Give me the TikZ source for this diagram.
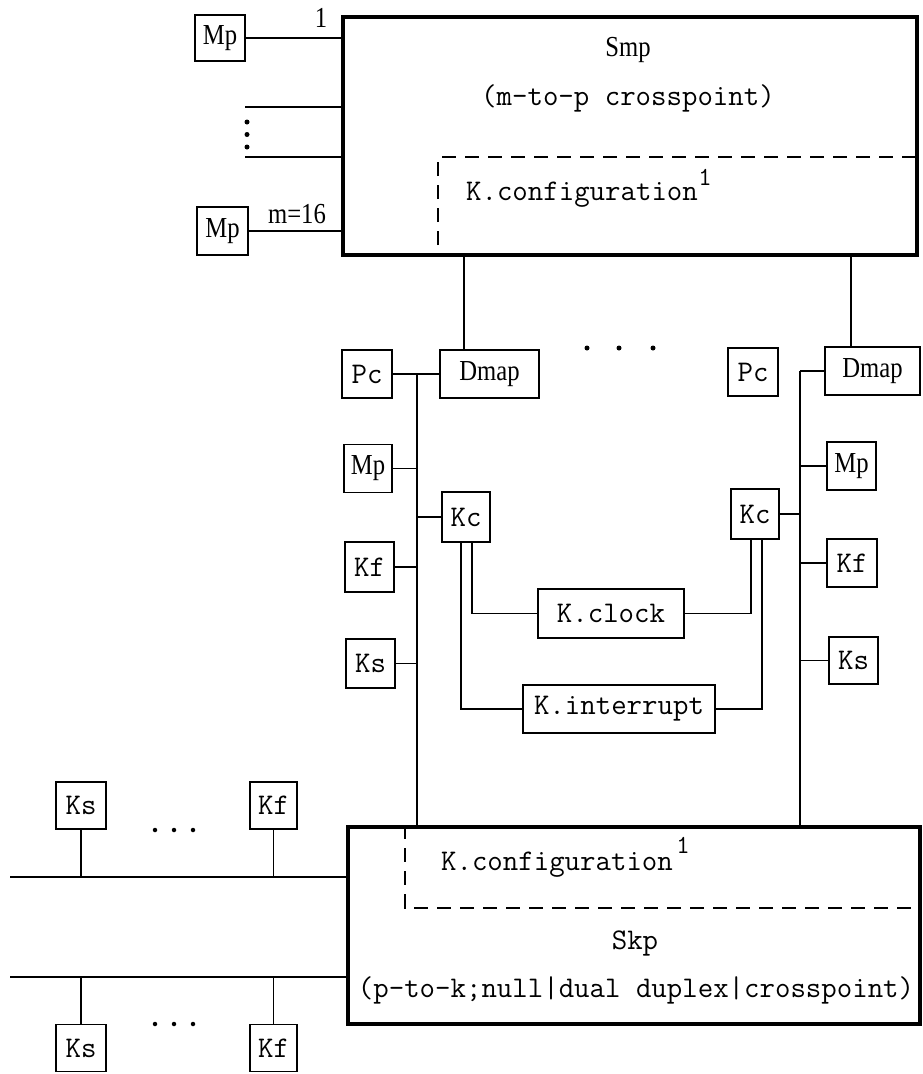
\documentclass[tikz,border=0pt]{standalone}
\usepackage{fontspec}
\newfontfamily\serf[FakeStretch=0.85]{Liberation Serif}
\usetikzlibrary{calc}
\tikzset{
  tt/.style={font=\fontsize{30}{34}\selectfont\ttfamily, inner sep=0pt},
  sf/.style={font=\fontsize{29}{33}\selectfont\serf, inner sep=0pt},
  box/.style={draw, line width=1.4pt, inner sep=0pt, minimum width=49pt, minimum height=48pt},
  big/.style={draw, line width=3.5pt, inner sep=0pt},
  wire/.style={line width=1.1pt},
  idash/.style={line width=1.4pt, dash pattern=on 14pt off 9pt},
  blob/.style={fill, circle, inner sep=0pt, minimum size=5pt}
}
\begin{document}
\begin{tikzpicture}[x=1pt,y=-1pt]
\fill[white] (0,0) rectangle (923,1074);
\useasboundingbox (0,0) rectangle (923,1074);

% ---------- Smp ----------
\node[big, minimum width=574pt, minimum height=238pt] (smp) at (630,136) {};
\node[sf] (smpt) at (628,50) {Smp};
\node[tt] (smpc) at (628,98) {(m-to-p crosspoint)};
\node[tt] (kcf1) at (582,195) {K.configuration};
\node[tt, font=\fontsize{26}{30}\selectfont\ttfamily] (kcf1s) at (705,177) {1};
\coordinate (dq1) at (438,245);
\coordinate (dq2) at (438,157);
\draw[idash] (dq1) -- (dq2) -- (dq2 -| smp.east);

\node[box, sf, minimum width=50pt, minimum height=46pt] (mp1) at (220,38) {Mp};
\node[box, sf, minimum width=51pt, minimum height=48pt] (mp2) at (222.5,231) {Mp};
\node[sf] (lbl1) at (321,18) {1};
\node[sf] (lblm) at (297,214) {m=16};
\draw[wire] (mp1.east) -- (mp1.east -| smp.west);
\draw[wire] (mp2.east) -- (mp2.east -| smp.west);
\coordinate (la) at (245,107);
\coordinate (lb) at (245,157);
\draw[wire] (la) -- (la -| smp.west);
\draw[wire] (lb) -- (lb -| smp.west);
\node[blob] (v1) at (247,122) {};
\node[blob] (v2) at (247,134.5) {};
\node[blob] (v3) at (247,147) {};

% ---------- Skp ----------
\node[big, minimum width=572pt, minimum height=197pt] (skp) at (634,925.5) {};
\coordinate (sq1) at (405,908);
\draw[idash] (sq1 |- skp.north) -- (sq1) -- (sq1 -| skp.east);
\node[tt] (kcf2) at (557,865) {K.configuration};
\node[tt, font=\fontsize{26}{30}\selectfont\ttfamily] (kcf2s) at (683,845) {1};
\node[tt] (skpt) at (635,943) {Skp};
\node[tt] (skpc) at (636,990) {(p-to-k;null|dual duplex|crosspoint)};

% ---------- row of Pc / Dmap ----------
\node[box, tt, minimum width=50pt] (pc1) at (367,374) {Pc};
\node[box, sf, minimum width=99pt] (dmap1) at (489.5,374) {Dmap};
\node[box, tt, minimum width=50pt] (pc2) at (753,372) {Pc};
\node[box, sf, minimum width=95pt] (dmap2) at (872.5,371) {Dmap};
\coordinate (da) at (464,0);
\coordinate (db) at (851,0);
\draw[wire] (da |- dmap1.north) -- (da |- smp.south);
\draw[wire] (db |- dmap2.north) -- (db |- smp.south);
\draw[wire] (pc1.east) -- (dmap1.west);
\node[blob] (h1) at (587,348) {};
\node[blob] (h2) at (619,348) {};
\node[blob] (h3) at (653,348) {};

% ---------- left column ----------
\coordinate (bl) at (417,374);
\draw[wire] (bl) -- (bl |- skp.north);
\node[box, sf, minimum width=48pt] (mp3) at (368,468.5) {Mp};
\node[box, tt, minimum width=48pt, minimum height=50pt] (kc1) at (466,517) {Kc};
\node[box, tt, minimum width=49pt, minimum height=50pt] (kf1) at (369.5,567) {Kf};
\node[box, tt, minimum width=49pt, minimum height=49pt] (ks1) at (370.5,663.5) {Ks};
\draw[wire] (mp3.east) -- (mp3.east -| bl);
\draw[wire] (kc1.west) -- (kc1.west -| bl);
\draw[wire] (kf1.east) -- (kf1.east -| bl);
\draw[wire] (ks1.east) -- (ks1.east -| bl);

% ---------- centre ----------
\node[box, tt, minimum width=146pt, minimum height=49pt] (kclock) at (611,613.5) {K.clock};
\node[box, tt, minimum width=192pt, minimum height=48pt] (kint) at (619,709) {K.interrupt};
\coordinate (ka) at (461,0);
\coordinate (kb) at (472,0);
\draw[wire] (ka |- kc1.south) |- (kint.west);
\draw[wire] (kb |- kc1.south) |- (kclock.west);

% ---------- right column ----------
\coordinate (br) at (800,371);
\draw[wire] (br) -- (br |- skp.north);
\draw[wire] (br) -- (dmap2.west);
\node[box, sf, minimum width=49pt] (mp4) at (851.5,466) {Mp};
\node[box, tt, minimum width=48pt, minimum height=50pt] (kc2) at (755,514) {Kc};
\node[box, tt, minimum width=50pt, minimum height=48pt] (kf2) at (852,563) {Kf};
\node[box, tt, minimum width=49pt, minimum height=47pt] (ks2) at (853.5,660.5) {Ks};
\draw[wire] (mp4.west) -- (mp4.west -| br);
\draw[wire] (kc2.east) -- (kc2.east -| br);
\draw[wire] (kf2.west) -- (kf2.west -| br);
\draw[wire] (ks2.west) -- (ks2.west -| br);
\coordinate (kc) at (751,0);
\coordinate (kd) at (762,0);
\draw[wire] (kc |- kc2.south) |- (kclock.east);
\draw[wire] (kd |- kc2.south) |- (kint.east);

% ---------- bottom left ----------
\coordinate (hh1) at (10,877);
\coordinate (hh2) at (10,977);
\draw[wire] (hh1) -- (hh1 -| skp.west);
\draw[wire] (hh2) -- (hh2 -| skp.west);
\node[box, tt, minimum width=50pt, minimum height=47pt] (ks3) at (81,805.5) {Ks};
\node[box, tt, minimum width=47pt, minimum height=47pt] (kf3) at (273.5,805.5) {Kf};
\node[box, tt, minimum width=50pt, minimum height=47pt] (ks4) at (81,1048) {Ks};
\node[box, tt, minimum width=47pt, minimum height=47pt] (kf4) at (273.5,1048) {Kf};
\draw[wire] (ks3.south) -- (ks3.south |- hh1);
\draw[wire] (kf3.south) -- (kf3.south |- hh1);
\draw[wire] (ks4.north) -- (ks4.north |- hh2);
\draw[wire] (kf4.north) -- (kf4.north |- hh2);
\node[blob, minimum size=4.5pt] (d1) at (155,830) {};
\node[blob, minimum size=4.5pt] (d2) at (174,830) {};
\node[blob, minimum size=4.5pt] (d3) at (193,830) {};
\node[blob, minimum size=4.5pt] (d4) at (155,1024) {};
\node[blob, minimum size=4.5pt] (d5) at (174,1024) {};
\node[blob, minimum size=4.5pt] (d6) at (193,1024) {};
\end{tikzpicture}
\end{document}
